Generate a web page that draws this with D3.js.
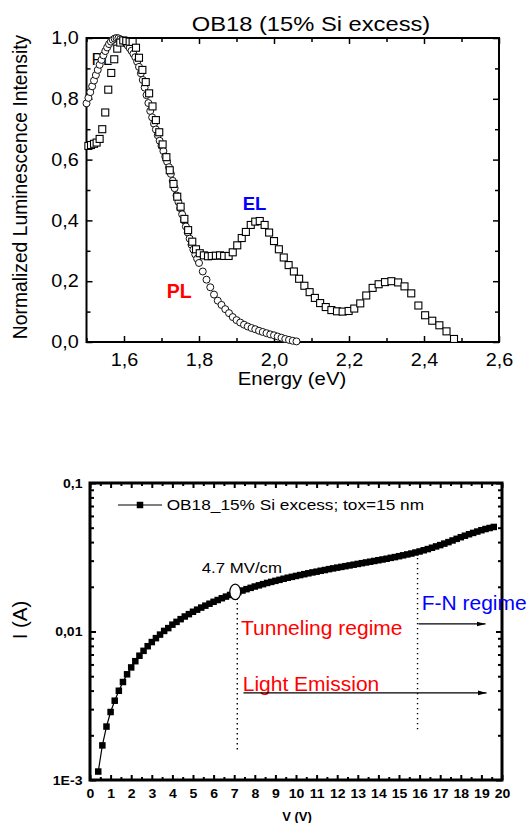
<!DOCTYPE html>
<html>
<head>
<meta charset="utf-8">
<script src="https://cdn.jsdelivr.net/npm/d3@7"></script>
<style>
  html, body { margin: 0; padding: 0; background: #fff; }
  svg { display: block; font-family: "Liberation Sans", Arial, Helvetica, sans-serif; }
</style>
</head>
<body>
<svg id="fig" width="530" height="823"></svg>
<script>
// ---------- Photoluminescence spectrum (open circles) ----------
const plEnergy = [
  1.500, 1.505, 1.510, 1.515, 1.520, 1.525, 1.530, 1.535, 1.540, 1.545,
  1.550, 1.555, 1.560, 1.565, 1.570, 1.575, 1.580, 1.585, 1.590, 1.595,
  1.600, 1.605, 1.610, 1.615, 1.620, 1.625, 1.630, 1.635, 1.640, 1.645,
  1.650, 1.655, 1.660, 1.665, 1.670, 1.675, 1.680, 1.685, 1.690, 1.695,
  1.700, 1.705, 1.710, 1.715, 1.720, 1.725, 1.730, 1.735, 1.740, 1.745,
  1.750, 1.755, 1.760, 1.765, 1.770, 1.775, 1.780, 1.785, 1.790, 1.795,
  1.80, 1.81, 1.82, 1.83, 1.84, 1.85, 1.86, 1.87, 1.88, 1.89,
  1.90, 1.91, 1.92, 1.93, 1.94, 1.95, 1.96, 1.97, 1.98, 1.99,
  2.00, 2.01, 2.02, 2.03, 2.04, 2.05, 2.06
];
const plIntensity = [
  0.785, 0.803, 0.822, 0.841, 0.860, 0.878, 0.895, 0.912, 0.928, 0.943,
  0.957, 0.969, 0.980, 0.988, 0.994, 0.998, 1.000, 0.999, 0.996, 0.992,
  0.988, 0.982, 0.975, 0.967, 0.958, 0.948, 0.937, 0.922, 0.905, 0.884,
  0.862, 0.837, 0.812, 0.786, 0.760, 0.739, 0.718, 0.699, 0.680, 0.662,
  0.645, 0.628, 0.610, 0.593, 0.575, 0.553, 0.530, 0.506, 0.482, 0.461,
  0.440, 0.420, 0.400, 0.380, 0.360, 0.340, 0.320, 0.304, 0.288, 0.274,
  0.260, 0.232, 0.205, 0.180, 0.156, 0.136, 0.122, 0.108, 0.095, 0.082,
  0.072, 0.064, 0.057, 0.051, 0.046, 0.042, 0.037, 0.033, 0.029, 0.025,
  0.022, 0.018, 0.014, 0.010, 0.007, 0.004, 0.002
];

// ---------- Electroluminescence spectrum (open squares) ----------
const elEnergy = [
  1.505, 1.512, 1.520, 1.527, 1.535, 1.542, 1.550, 1.558, 1.566, 1.574,
  1.582, 1.590, 1.598, 1.606, 1.615, 1.623, 1.632, 1.640, 1.649, 1.658,
  1.667, 1.676, 1.685, 1.694, 1.703, 1.713, 1.722, 1.732, 1.742, 1.751,
  1.761, 1.771, 1.782, 1.792, 1.802, 1.813, 1.824, 1.834, 1.845, 1.856,
  1.867, 1.879, 1.890, 1.902, 1.914, 1.925, 1.938, 1.950, 1.962, 1.975,
  1.987, 2.000, 2.013, 2.026, 2.039, 2.053, 2.067, 2.081, 2.095, 2.109,
  2.123, 2.138, 2.153, 2.168, 2.183, 2.199, 2.214, 2.230, 2.246, 2.263,
  2.279, 2.296, 2.313, 2.331, 2.348, 2.366, 2.385, 2.403, 2.422, 2.441,
  2.460, 2.480
];
const elIntensity = [
  0.645, 0.648, 0.652, 0.656, 0.668, 0.700, 0.755, 0.830, 0.885, 0.930,
  0.965, 0.985, 0.992, 0.990, 0.988, 0.987, 0.968, 0.935, 0.895, 0.855,
  0.818, 0.775, 0.730, 0.690, 0.650, 0.608, 0.565, 0.520, 0.478, 0.445,
  0.405, 0.368, 0.330, 0.305, 0.292, 0.285, 0.282, 0.283, 0.284, 0.285,
  0.283, 0.283, 0.295, 0.318, 0.342, 0.362, 0.385, 0.396, 0.398, 0.385,
  0.360, 0.332, 0.305, 0.278, 0.253, 0.232, 0.208, 0.185, 0.164, 0.145,
  0.128, 0.115, 0.105, 0.101, 0.100, 0.102, 0.110, 0.127, 0.153, 0.178,
  0.190, 0.197, 0.200, 0.196, 0.183, 0.160, 0.120, 0.088, 0.070, 0.055,
  0.035, 0.010
];

// ---------- I-V characteristic, OB18 15% Si excess, tox = 15 nm ----------
const ivVoltage = [
  0.4, 0.6, 0.8, 1.0, 1.2, 1.4, 1.6, 1.8, 2.0, 2.2,
  2.4, 2.6, 2.8, 3.0, 3.2, 3.4, 3.6, 3.8, 4.0, 4.2,
  4.4, 4.6, 4.8, 5.0, 5.2, 5.4, 5.6, 5.8, 6.0, 6.2,
  6.4, 6.6, 6.8, 7.0, 7.2, 7.4, 7.6, 7.8, 8.0, 8.2,
  8.4, 8.6, 8.8, 9.0, 9.2, 9.4, 9.6, 9.8, 10.0, 10.2,
  10.4, 10.6, 10.8, 11.0, 11.2, 11.4, 11.6, 11.8, 12.0, 12.2,
  12.4, 12.6, 12.8, 13.0, 13.2, 13.4, 13.6, 13.8, 14.0, 14.2,
  14.4, 14.6, 14.8, 15.0, 15.2, 15.4, 15.6, 15.8, 16.0, 16.2,
  16.4, 16.6, 16.8, 17.0, 17.2, 17.4, 17.6, 17.8, 18.0, 18.2,
  18.4, 18.6, 18.8, 19.0, 19.2, 19.4, 19.6
];
const ivCurrent = [
  0.00114, 0.00171, 0.00229, 0.00287, 0.00342, 0.00399, 0.00457, 0.00515, 0.00573, 0.00631,
  0.00687, 0.00741, 0.00796, 0.00849, 0.00902, 0.00953, 0.01009, 0.01054, 0.01112, 0.01161,
  0.01211, 0.01262, 0.01309, 0.01358, 0.01403, 0.01449, 0.01493, 0.01538, 0.01585, 0.01629,
  0.01675, 0.01718, 0.01762, 0.01803, 0.01845, 0.01888, 0.01928, 0.01968, 0.02009, 0.02046,
  0.02084, 0.02123, 0.02158, 0.02193, 0.02228, 0.02265, 0.02301, 0.02333, 0.02366, 0.02399,
  0.02432, 0.02466, 0.02500, 0.02529, 0.02564, 0.02594, 0.02630, 0.02661, 0.02692, 0.02723,
  0.02754, 0.02786, 0.02818, 0.02851, 0.02884, 0.02917, 0.02951, 0.02985, 0.03020, 0.03055,
  0.03090, 0.03133, 0.03170, 0.03214, 0.03258, 0.03304, 0.03350, 0.03404, 0.03459, 0.03524,
  0.03589, 0.03664, 0.03741, 0.03819, 0.03908, 0.03999, 0.04102, 0.04207, 0.04315, 0.04416,
  0.04519, 0.04613, 0.04710, 0.04809, 0.04898, 0.04977, 0.05058
];

// ---------- ticks ----------
const energyTicks = [1.6, 1.8, 2.0, 2.2, 2.4, 2.6];
const energyMinorTicks = [1.5, 1.7, 1.9, 2.1, 2.3, 2.5];
const intensityTicks = [0.0, 0.2, 0.4, 0.6, 0.8, 1.0];
const intensityMinorTicks = [0.1, 0.3, 0.5, 0.7, 0.9];
const voltageTicks = [0, 1, 2, 3, 4, 5, 6, 7, 8, 9, 10, 11, 12, 13, 14, 15, 16, 17, 18, 19, 20];
const voltageMinorTicks = [0.5, 1.5, 2.5, 3.5, 4.5, 5.5, 6.5, 7.5, 8.5, 9.5, 10.5, 11.5, 12.5, 13.5, 14.5, 15.5, 16.5, 17.5, 18.5, 19.5];
const currentTicks = [0.001, 0.01, 0.1];
const currentTickLabels = ["1E-3", "0,01", "0,1"];
const currentMinorTicks = [0.002, 0.003, 0.004, 0.005, 0.006, 0.007, 0.008, 0.009,
                           0.02, 0.03, 0.04, 0.05, 0.06, 0.07, 0.08, 0.09];

// ---------- annotation anchors (V, A) ----------
const fieldMarker = { v: 7.05, i: 0.0185 };          // 4.7 MV/cm
const emissionOnset = { v: 7.15, iTop: 0.0168, iBottom: 0.00155 };
const fnOnset = { v: 15.9, iTop: 0.0338, iBottom: 0.00211 };
const tunnelingArrow = { v0: 15.95, v1: 19.2, i: 0.01124 };
const emissionArrow = { v0: 7.45, v1: 19.25, i: 0.00386 };

const FONT = '"Liberation Sans", Arial, Helvetica, sans-serif';
const svg = d3.select("#fig");

function addText(g, x, y, str, o) {
  return g.append("text")
    .attr("transform", `translate(${x},${y}) scale(${o.sx || 1},1)` + (o.rot ? ` rotate(${o.rot})` : ""))
    .attr("text-anchor", o.anchor || "start")
    .attr("font-size", o.size)
    .attr("font-weight", o.weight || "normal")
    .attr("fill", o.fill || "#000")
    .text(str);
}

function drawAxis(g, axis, tx, ty, style) {
  const a = g.append("g")
    .attr("transform", `translate(${tx},${ty})`)
    .call(axis);
  a.select(".domain").remove();
  a.attr("font-family", FONT)
   .attr("font-size", style.size || 10)
   .attr("font-weight", style.weight || "normal");
  a.selectAll(".tick line").attr("stroke", "#000").attr("stroke-width", style.tickWidth);
  a.selectAll(".tick text").attr("fill", "#000");
  if (style.sx) a.selectAll(".tick text").attr("transform", `scale(${style.sx},1)`);
  return a;
}

const commaFmt = d => d3.format(".1f")(d).replace(".", ",");

// =====================================================================
// Upper panel: normalized luminescence spectra
// =====================================================================
const up = svg.append("g");
const x1 = d3.scaleLinear().domain([1.5, 2.6]).range([86.5, 499]);
const y1 = d3.scaleLinear().domain([0, 1]).range([342, 38]);

const upStyle = { size: 18, tickWidth: 1.5, sx: 1.1 };
drawAxis(up, d3.axisBottom(x1).tickValues(energyTicks).tickSize(-6).tickPadding(11).tickFormat(commaFmt), 0, y1(0), upStyle);
drawAxis(up, d3.axisBottom(x1).tickValues(energyMinorTicks).tickSize(-4).tickFormat(""), 0, y1(0), upStyle);
drawAxis(up, d3.axisTop(x1).tickValues(energyTicks).tickSize(-6).tickFormat(""), 0, y1(1), upStyle);
drawAxis(up, d3.axisTop(x1).tickValues(energyMinorTicks).tickSize(-4).tickFormat(""), 0, y1(1), upStyle);
drawAxis(up, d3.axisLeft(y1).tickValues(intensityTicks).tickSize(-6).tickPadding(7).tickFormat(commaFmt), x1(1.5), 0, upStyle);
drawAxis(up, d3.axisLeft(y1).tickValues(intensityMinorTicks).tickSize(-4).tickFormat(""), x1(1.5), 0, upStyle);
drawAxis(up, d3.axisRight(y1).tickValues(intensityTicks).tickSize(-6).tickFormat(""), x1(2.6), 0, upStyle);
drawAxis(up, d3.axisRight(y1).tickValues(intensityMinorTicks).tickSize(-4).tickFormat(""), x1(2.6), 0, upStyle);

up.append("rect")
  .attr("x", x1(1.5)).attr("y", y1(1))
  .attr("width", x1(2.6) - x1(1.5)).attr("height", y1(0) - y1(1))
  .attr("fill", "none").attr("stroke", "#000").attr("stroke-width", 2);

addText(up, 311, 31, "OB18 (15% Si excess)", { size: 21, sx: 1.13, anchor: "middle" });
addText(up, 27, 187, "Normalized Luminescence Intensity", { size: 19.3, rot: -90, anchor: "middle" });
addText(up, 292, 385, "Energy (eV)", { size: 18, sx: 1.13, anchor: "middle" });

// legend-style label sitting under the markers near the peak
addText(up, 91.5, 65, "PL", { size: 17 });

const plData = plEnergy.map((e, k) => ({ e, v: plIntensity[k] }));
const elData = elEnergy.map((e, k) => ({ e, v: elIntensity[k] }));

up.append("g").selectAll("circle").data(plData).join("circle")
  .attr("cx", d => x1(d.e)).attr("cy", d => y1(d.v)).attr("r", 3.5)
  .attr("fill", "#fff").attr("stroke", "#111").attr("stroke-width", 1);

const sq = 7;
up.append("g").selectAll("rect").data(elData).join("rect")
  .attr("x", d => x1(d.e) - sq / 2).attr("y", d => y1(d.v) - sq / 2)
  .attr("width", sq).attr("height", sq)
  .attr("fill", "#fff").attr("stroke", "#000").attr("stroke-width", 1.1);

addText(up, 242.7, 210, "EL", { size: 18.5, weight: "bold", fill: "#0000ff" });
addText(up, 166.7, 298, "PL", { size: 19.5, weight: "bold", fill: "#ff0000" });

// =====================================================================
// Lower panel: I-V curve on a log current axis
// =====================================================================
const lo = svg.append("g");
const x2 = d3.scaleLinear().domain([0, 20]).range([90, 502]);
const y2 = d3.scaleLog().domain([0.001, 0.1]).range([780, 483]);

const loStyle = { size: 13, weight: "bold", tickWidth: 2, sx: 1.08 };
drawAxis(lo, d3.axisBottom(x2).tickValues(voltageTicks).tickSize(-5).tickPadding(9).tickFormat(d3.format("d")), 0, y2(0.001), loStyle);
drawAxis(lo, d3.axisBottom(x2).tickValues(voltageMinorTicks).tickSize(-3).tickFormat(""), 0, y2(0.001), loStyle);
drawAxis(lo, d3.axisTop(x2).tickValues(voltageTicks).tickSize(-5).tickFormat(""), 0, y2(0.1), loStyle);
drawAxis(lo, d3.axisTop(x2).tickValues(voltageMinorTicks).tickSize(-3).tickFormat(""), 0, y2(0.1), loStyle);
drawAxis(lo, d3.axisLeft(y2).tickValues(currentTicks).tickSize(-6).tickPadding(7)
  .tickFormat((d, k) => currentTickLabels[k]), x2(0), 0, loStyle);
drawAxis(lo, d3.axisLeft(y2).tickValues(currentMinorTicks).tickSize(-4).tickFormat(""), x2(0), 0, loStyle);
drawAxis(lo, d3.axisRight(y2).tickValues(currentTicks).tickSize(-6).tickFormat(""), x2(20), 0, loStyle);
drawAxis(lo, d3.axisRight(y2).tickValues(currentMinorTicks).tickSize(-4).tickFormat(""), x2(20), 0, loStyle);

lo.append("rect")
  .attr("x", x2(0)).attr("y", y2(0.1))
  .attr("width", x2(20) - x2(0)).attr("height", y2(0.001) - y2(0.1))
  .attr("fill", "none").attr("stroke", "#000").attr("stroke-width", 3);

addText(lo, 27, 620, "I (A)", { size: 20.5, rot: -90, anchor: "middle" });
addText(lo, 297, 821, "V (V)", { size: 13, weight: "bold", anchor: "middle" });

// arrowhead marker
svg.append("defs").append("marker")
  .attr("id", "arrow").attr("markerUnits", "userSpaceOnUse")
  .attr("markerWidth", 10).attr("markerHeight", 6)
  .attr("refX", 9).attr("refY", 3).attr("orient", "auto")
  .append("path").attr("d", "M0,0.6 L9,3 L0,5.4 Z").attr("fill", "#000");

// regime boundaries
[emissionOnset, fnOnset].forEach(b => {
  lo.append("line")
    .attr("x1", x2(b.v)).attr("x2", x2(b.v))
    .attr("y1", y2(b.iTop)).attr("y2", y2(b.iBottom))
    .attr("stroke", "#000").attr("stroke-width", 1.4)
    .attr("stroke-dasharray", "1.4,3.6");
});

// I-V data
const ivData = ivVoltage.map((v, k) => ({ v, i: ivCurrent[k] }));
lo.append("path").datum(ivData)
  .attr("d", d3.line().x(d => x2(d.v)).y(d => y2(d.i)))
  .attr("fill", "none").attr("stroke", "#000").attr("stroke-width", 1.2);
const ms = 6.5;
lo.append("g").selectAll("rect").data(ivData).join("rect")
  .attr("x", d => x2(d.v) - ms / 2).attr("y", d => y2(d.i) - ms / 2)
  .attr("width", ms).attr("height", ms).attr("fill", "#000");

// field marker ellipse
lo.append("ellipse")
  .attr("cx", x2(fieldMarker.v)).attr("cy", y2(fieldMarker.i))
  .attr("rx", 5.4).attr("ry", 7.8)
  .attr("fill", "#fff").attr("stroke", "#000").attr("stroke-width", 1.2);
addText(lo, 201.7, 573, "4.7 MV/cm", { size: 14, sx: 1.2 });

// legend
lo.append("line").attr("x1", 118).attr("x2", 162).attr("y1", 505).attr("y2", 505)
  .attr("stroke", "#000").attr("stroke-width", 1.2);
lo.append("rect").attr("x", 140 - ms / 2).attr("y", 505 - ms / 2)
  .attr("width", ms).attr("height", ms).attr("fill", "#000");
addText(lo, 166.7, 510, "OB18_15% Si excess; tox=15 nm", { size: 15, sx: 1.15 });

// regime labels and arrows
addText(lo, 241, 635, "Tunneling regime", { size: 21, fill: "#ff0000" });
addText(lo, 421.7, 610, "F-N regime", { size: 21, fill: "#0000ff" });
addText(lo, 242.7, 691, "Light Emission", { size: 21, fill: "#ff0000" });

[tunnelingArrow, emissionArrow].forEach(a => {
  lo.append("line")
    .attr("x1", x2(a.v0)).attr("x2", x2(a.v1))
    .attr("y1", y2(a.i)).attr("y2", y2(a.i))
    .attr("stroke", "#000").attr("stroke-width", 1.2)
    .attr("marker-end", "url(#arrow)");
});
</script>
</body>
</html>
